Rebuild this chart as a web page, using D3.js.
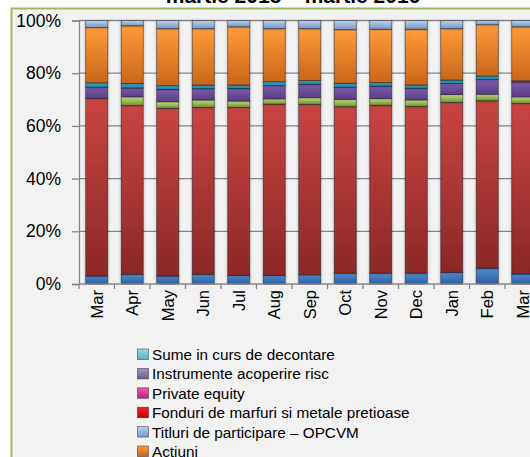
<!DOCTYPE html>
<html>
<head>
<meta charset="utf-8">
<script src="https://cdn.jsdelivr.net/npm/d3@7"></script>
<style>
  body { margin: 0; background: #ffffff; }
  svg { display: block; font-family: "Liberation Sans", Arial, sans-serif; }
</style>
</head>
<body>
<div class="chart-container"></div>
<script>
// Months (martie 2015 - martie 2016)
const months = ["Mar", "Apr", "May", "Jun", "Jul", "Aug", "Sep", "Oct", "Nov", "Dec", "Jan", "Feb", "Mar"];

// Series values, % of total assets, bottom of the stack first
const depozite = [3.0, 3.7, 3.0, 3.7, 3.3, 3.2, 3.5, 4.1, 4.1, 4.1, 4.4, 6.0, 3.8];
const titluriStat = [67.3, 64.1, 63.6, 63.4, 63.8, 65.0, 64.7, 63.2, 63.8, 63.2, 64.5, 63.6, 64.8];
const oblMunicipale = [0, 3.3, 2.5, 2.8, 2.4, 2.0, 2.5, 2.8, 2.5, 2.5, 3.0, 2.5, 2.5];
const oblCorporative = [4.3, 3.4, 4.7, 4.3, 4.8, 5.0, 5.1, 4.6, 4.8, 4.4, 4.2, 5.6, 5.7];
const oblStraine = [1.7, 1.7, 1.4, 1.4, 1.3, 1.5, 1.4, 1.5, 1.3, 1.3, 1.3, 1.3, 0.4];
const actiuni = [20.9, 21.9, 21.6, 21.4, 22.1, 20.1, 19.7, 20.3, 20.3, 21.1, 19.5, 19.5, 20.5];
const titluriOpcvm = [2.7, 2.0, 3.1, 3.1, 2.4, 3.1, 3.1, 3.5, 3.3, 3.3, 3.1, 1.6, 2.4];
const fonduri = [0, 0, 0, 0, 0, 0, 0, 0, 0, 0, 0, 0, 0];
const privateEquity = [0, 0, 0, 0, 0, 0, 0, 0, 0, 0, 0, 0, 0];
const instrumente = [0, 0, 0, 0, 0, 0, 0, 0, 0, 0, 0, 0, 0];
const sume = [0, 0, 0, 0, 0, 0, 0, 0, 0, 0, 0, 0, 0];

const seriesNames = [
    "Depozite bancare",
    "Titluri de stat",
    "Obligatiuni municipale",
    "Obligatiuni corporative",
    "Obligatiuni emise de organisme straine neguvernamentale",
    "Actiuni",
    "Titluri de participare \u2013 OPCVM",
    "Fonduri de marfuri si metale pretioase",
    "Private equity",
    "Instrumente acoperire risc",
    "Sume in curs de decontare"
];
const seriesValues = [depozite, titluriStat, oblMunicipale, oblCorporative, oblStraine,
    actiuni, titluriOpcvm, fonduri, privateEquity, instrumente, sume];

const yTicks = [0, 0.2, 0.4, 0.6, 0.8, 1];
const title = "martie 2015 \u2013 martie 2016";

// [top, bottom] of the vertical shading for each series
const shades = [
    ["#4d8bd2", "#2d5f9e"],
    ["#c94442", "#8b2826"],
    ["#c8e47a", "#6f8c34"],
    ["#7d5bab", "#5a3e86"],
    ["#35adcc", "#1d86a4"],
    ["#ff9b38", "#c9661a"],
    ["#bcd2ee", "#7896c2"],
    ["#ff2020", "#c00000"],
    ["#f05aaa", "#c02078"],
    ["#a494bc", "#6e5e8a"],
    ["#9ad8e8", "#5aaec4"]
];

function createChart() {
    const w = 530, h = 457;
    const top = 20.5, bottom = 284, left = 79, right = 540.5;

    const svg = d3.select(".chart-container").append("svg")
        .attr("width", w)
        .attr("height", h);

    const defs = svg.append("defs");
    shades.forEach((s, i) => {
        const g = defs.append("linearGradient")
            .attr("id", "grad" + i)
            .attr("x1", 0).attr("y1", 0).attr("x2", 0).attr("y2", 1);
        g.append("stop").attr("offset", "0%").attr("stop-color", s[0]);
        g.append("stop").attr("offset", "100%").attr("stop-color", s[1]);
    });
    const shadow = defs.append("filter")
        .attr("id", "shadow")
        .attr("x", "-30%").attr("y", "-5%").attr("width", "160%").attr("height", "110%");
    shadow.append("feDropShadow")
        .attr("dx", 0).attr("dy", 0)
        .attr("stdDeviation", 1.6)
        .attr("flood-color", "#000")
        .attr("flood-opacity", 0.35);

    // Title (mostly cut by the top edge)
    svg.append("text")
        .attr("x", 293)
        .attr("y", 2.5)
        .attr("text-anchor", "middle")
        .attr("font-weight", "bold")
        .attr("font-size", 21)
        .text(title);

    // Chart frame
    svg.append("rect")
        .attr("x", 11.5)
        .attr("y", 8.5)
        .attr("width", 700)
        .attr("height", 700)
        .attr("fill", "#f2f2f2")
        .attr("stroke", "#9bbb59")
        .attr("stroke-width", 2);

    // Scales
    const x = d3.scaleBand()
        .domain(d3.range(months.length))
        .range([left, right])
        .paddingInner(0.38)
        .paddingOuter(0.19);

    const y = d3.scaleLinear()
        .domain([0, 1])
        .range([bottom, top]);

    // Gridlines
    svg.append("g")
        .selectAll("line")
        .data(yTicks.slice(1))
        .enter()
        .append("line")
        .attr("x1", left)
        .attr("x2", right)
        .attr("y1", (d) => y(d))
        .attr("y2", (d) => y(d))
        .attr("stroke", "#858585")
        .attr("stroke-width", 1.3);

    // Stack the series to 100%
    const table = months.map((m, i) => {
        const row = { idx: i };
        seriesValues.forEach((vals, k) => { row[k] = vals[i]; });
        return row;
    });
    const stacked = d3.stack()
        .keys(d3.range(seriesValues.length))
        .offset(d3.stackOffsetExpand)(table);

    svg.append("g")
        .selectAll("g")
        .data(stacked)
        .enter()
        .append("g")
        .attr("filter", "url(#shadow)")
        .attr("fill", (d, i) => `url(#grad${i})`)
        .selectAll("rect")
        .data((d) => d.filter((p) => p[1] - p[0] > 0))
        .enter()
        .append("rect")
        .attr("x", (d) => x(d.data.idx))
        .attr("width", x.bandwidth())
        .attr("y", (d) => y(d[1]))
        .attr("height", (d) => y(d[0]) - y(d[1]))
        .attr("stroke", "rgba(20,20,30,0.55)")
        .attr("stroke-width", 0.8);

    // Y axis
    const yAxis = d3.axisLeft(y)
        .tickValues(yTicks)
        .tickFormat(d3.format(".0%"))
        .tickSize(7)
        .tickPadding(11);
    const yG = svg.append("g")
        .attr("transform", `translate(${left}, 0)`)
        .call(yAxis);
    yG.select(".domain").attr("stroke", "#858585").attr("stroke-width", 1.3);
    yG.selectAll(".tick line").attr("stroke", "#858585").attr("stroke-width", 1.3);
    yG.selectAll(".tick text")
        .attr("font-size", 17.5)
        .attr("font-family", "'Liberation Sans', Arial, sans-serif")
        .attr("fill", "#000");

    // X axis: line with ticks between the categories
    const xG = svg.append("g");
    xG.append("line")
        .attr("x1", left).attr("x2", right)
        .attr("y1", bottom).attr("y2", bottom)
        .attr("stroke", "#858585").attr("stroke-width", 1.3);
    xG.selectAll(".xtick")
        .data(d3.range(months.length + 1))
        .enter()
        .append("line")
        .attr("x1", (d) => left + d * x.step())
        .attr("x2", (d) => left + d * x.step())
        .attr("y1", bottom)
        .attr("y2", bottom + 5)
        .attr("stroke", "#858585").attr("stroke-width", 1.3);
    xG.selectAll(".xlabel")
        .data(months)
        .enter()
        .append("text")
        .attr("transform", (d, i) => `translate(${x(i) + x.bandwidth() / 2}, ${bottom + 6}) rotate(-90)`)
        .attr("text-anchor", "end")
        .attr("dy", "0.35em")
        .attr("font-size", 16.5)
        .text((d) => d);

    // Legend (top of the stack first)
    const legend = svg.append("g")
        .attr("transform", "translate(137, 360)");
    const order = d3.range(seriesNames.length).reverse();
    order.forEach((k, j) => {
        const row = legend.append("g")
            .attr("transform", `translate(0, ${j * 19.4})`);
        row.append("rect")
            .attr("x", 0.5)
            .attr("y", -11)
            .attr("width", 11)
            .attr("height", 10.5)
            .attr("fill", `url(#grad${k})`)
            .attr("stroke", "rgba(40,40,60,0.6)")
            .attr("stroke-width", 0.8);
        row.append("text")
            .attr("x", 15)
            .attr("y", 0)
            .attr("font-size", 15.3)
            .text(seriesNames[k]);
    });
}

createChart();
</script>
</body>
</html>
